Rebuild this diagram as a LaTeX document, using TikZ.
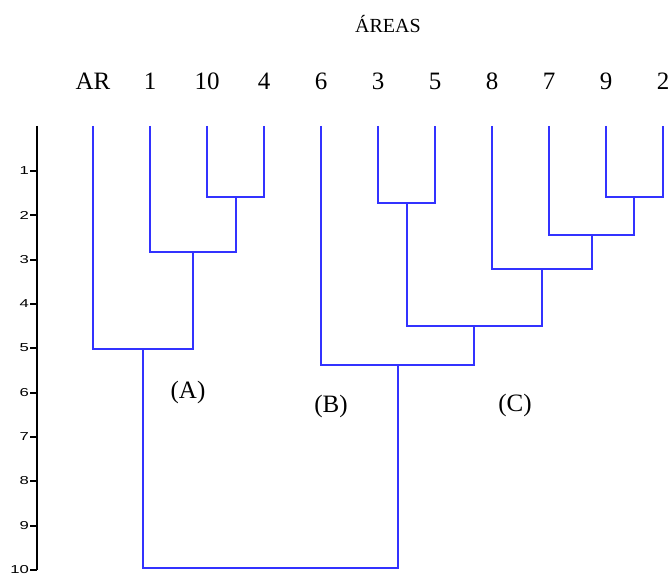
\documentclass[tikz,border=0pt]{standalone}
\usepackage{fontspec, graphicx}
\setmainfont{Liberation Serif}
\newfontfamily\axisfont{Liberation Sans}
\usetikzlibrary{positioning}
\definecolor{dendro}{RGB}{50,50,255}
\tikzstyle{leaf}     = [anchor=base, inner sep=0pt, font=\fontsize{25}{25}\selectfont]
\tikzstyle{group}    = [inner sep=0pt, font=\fontsize{25}{25}\selectfont]
\tikzstyle{title}    = [anchor=base, inner sep=0pt, font=\fontsize{20}{20}\selectfont]
\tikzstyle{ticklab}  = [anchor=east, inner sep=0pt, font=\axisfont\fontsize{11.5}{11.5}\selectfont]
\tikzstyle{branch}   = [draw=dendro, line width=1.5pt]
\tikzstyle{axisline} = [draw=black, line width=1.4pt]

\begin{document}
\begin{tikzpicture}[x=1pt, y=-1pt]
	\useasboundingbox (0,0) rectangle (670,575);

		% Labels %

		\node [title] (areas) at (388,33) {ÁREAS};
		\foreach \lab [count=\i from 0] in {AR,1,10,4,6,3,5,8,7,9,2} {
			\node [leaf] (l\i) at ({round(93.3+56.93*\i)},89.5) {\lab};
			\coordinate (t\i) at ({round(93.3+56.93*\i)},126);
		}

		% Axis %

		\coordinate (atop) at (37,126);
		\coordinate (abot) at (37,570);
		\path [axisline] (atop) -- (abot);
		\foreach \v in {1,...,10} {
			\coordinate (tk\v) at (37,{round(126.4+44.37*\v)});
			\coordinate (tl\v) at (30,{round(126.4+44.37*\v)});
			\node [ticklab] (n\v) at (29,{round(126.4+44.37*\v)}) {\scalebox{1.45}[1]{\v}};
			\path [axisline] (tl\v) -- (tk\v);
		}

		% Joins %

		% (A) =====================================%
		\coordinate (j104) at (236,197);
		\coordinate (j1)   at (193,252);
		\coordinate (jA)   at (143,349);
		% (C) =====================================%
		\coordinate (j92)  at (634,197);
		\coordinate (j35)  at (407,203);
		\coordinate (j7)   at (592,235);
		\coordinate (j8)   at (542,269);
		\coordinate (jC)   at (474,326);
		% (B) =====================================%
		\coordinate (jB)   at (398,365);
		% root ====================================%
		\coordinate (root) at (270,568);

		% Connection %

		\path [branch] (t2)   |- (j104) -| (t3);
		\path [branch] (t1)   |- (j1)   -| (j104);
		\path [branch] (t0)   |- (jA)   -| (j1);
		\path [branch] (t9)   |- (j92)  -| (t10);
		\path [branch] (t5)   |- (j35)  -| (t6);
		\path [branch] (t8)   |- (j7)   -| (j92);
		\path [branch] (t7)   |- (j8)   -| (j7);
		\path [branch] (j35)  |- (jC)   -| (j8);
		\path [branch] (t4)   |- (jB)   -| (jC);
		\path [branch] (jA)   |- (root) -| (jB);

		% Groups %

		\node [group] (ga) at (188,392)   {(A)};
		\node [group] (gb) at (331,406) {(B)};
		\node [group] (gc) at (515,405)   {(C)};
	\end{tikzpicture}
\end{document}
